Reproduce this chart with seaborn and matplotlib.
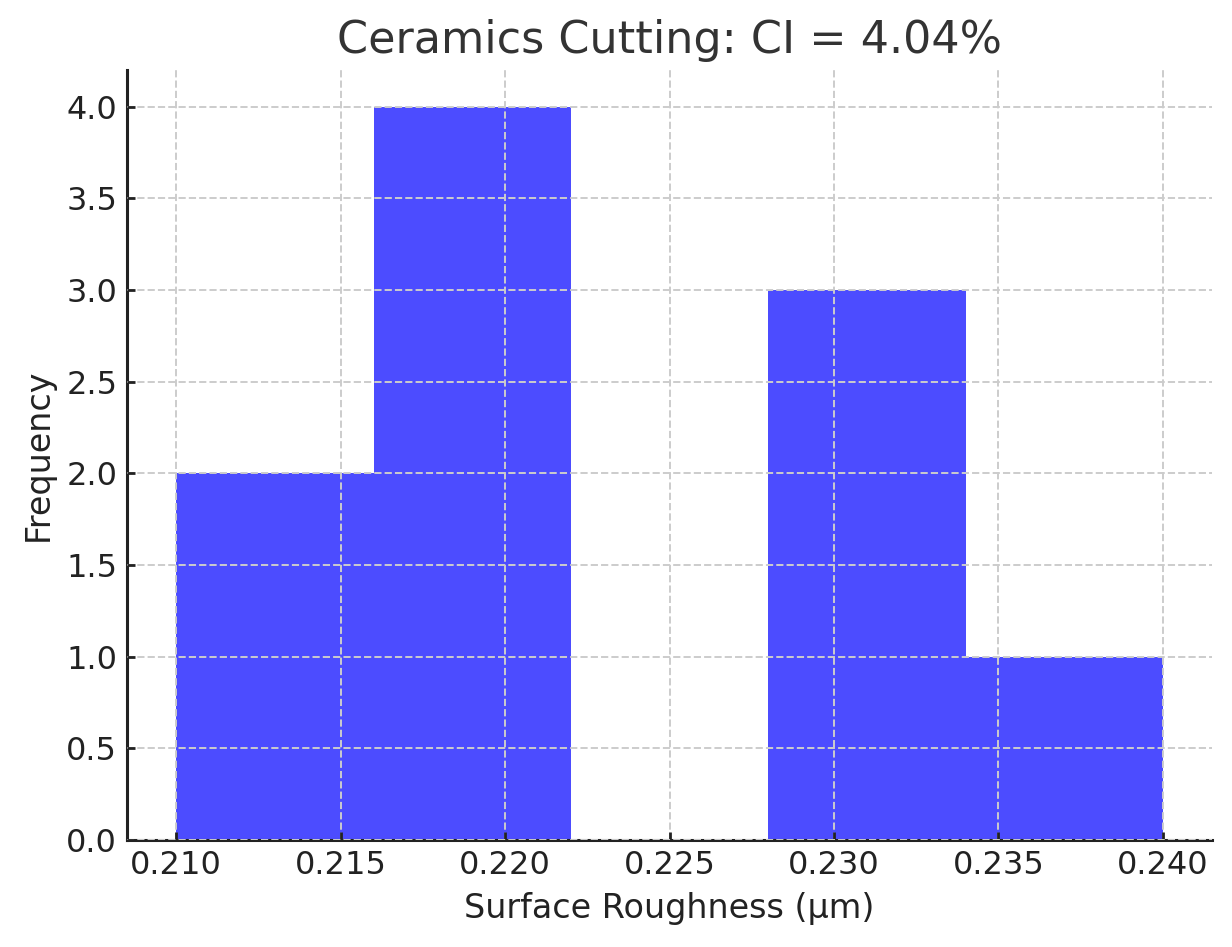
import matplotlib
matplotlib.use("Agg")
import matplotlib.pyplot as plt
import seaborn as sns
import numpy as np

bin_edges = [0.210, 0.216, 0.222, 0.228, 0.234, 0.240]
counts = [2, 4, 0, 3, 1]
xticks = [0.210, 0.215, 0.220, 0.225, 0.230, 0.235, 0.240]
yticks = [0.0, 0.5, 1.0, 1.5, 2.0, 2.5, 3.0, 3.5, 4.0]

sns.set_style("ticks")
plt.rcParams['font.family'] = ['DejaVu Sans']

fig, ax = plt.subplots(figsize=(6.16, 4.735), dpi=200)
centers = [(bin_edges[i] + bin_edges[i + 1]) / 2 for i in range(len(counts))]
sns.histplot(x=centers, weights=counts, bins=bin_edges, color="blue", alpha=0.7,
             edgecolor=None, linewidth=0, ax=ax)

ax.set_title("Ceramics Cutting: CI = 4.04%", fontsize=16, color="#333333")
ax.set_xlabel("Surface Roughness (µm)", fontsize=12, color="#222222")
ax.set_ylabel("Frequency", fontsize=12, color="#222222")
ax.set_xticks(xticks)
ax.set_xticklabels([f"{t:.3f}" for t in xticks])
ax.set_yticks(yticks)
ax.set_yticklabels([f"{t:.1f}" for t in yticks])
ax.tick_params(labelsize=11.5, direction="in", length=3, width=1, colors="#222222",
               labelcolor="#222222")
ax.grid(True, linestyle="--", color="#cccccc", linewidth=0.7)
ax.set_axisbelow(False)
sns.despine(ax=ax)
for s in ("left", "bottom"):
    ax.spines[s].set_linewidth(1.1)
    ax.spines[s].set_color("#222222")
ax.set_xlim(0.2085, 0.2415)
ax.set_ylim(0, 4.2)
fig.subplots_adjust(left=0.103, right=0.984, bottom=0.113, top=0.926)
fig.savefig("out.png", dpi=200)
